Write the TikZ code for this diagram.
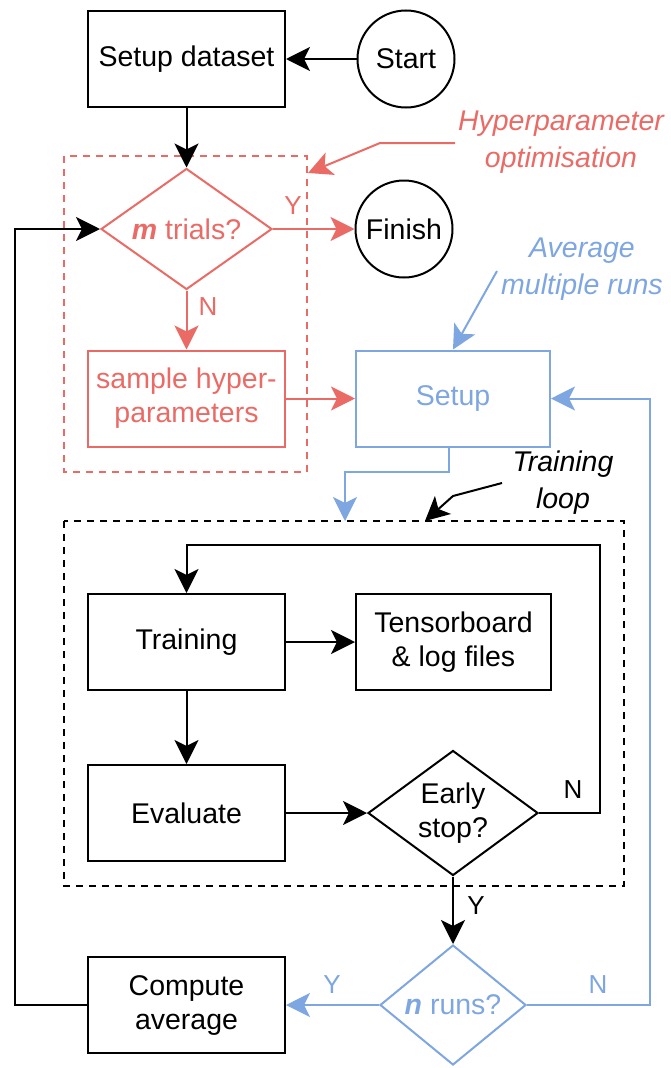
\documentclass[tikz,border=0pt]{standalone}
\usepackage{fontspec}
\setmainfont{Liberation Sans}
\usetikzlibrary{arrows.meta,shapes.geometric,calc}
\definecolor{hred}{HTML}{EA6B66}
\definecolor{hblue}{HTML}{7EA6E0}

\begin{document}
\begin{tikzpicture}[x=1pt,y=-1pt,line width=2pt,
  every node/.style={font=\fontsize{28.5}{34}\selectfont},
  arr/.style={-{Stealth[length=24pt,width=24pt,inset=6pt]}},
  box/.style={draw,rectangle,minimum width=197pt,minimum height=96pt,inner sep=0pt,align=center},
  term/.style={draw,circle,minimum size=97pt,inner sep=0pt},
  decision/.style={draw,diamond,inner sep=0pt},
  frame/.style={dashed,dash pattern=on 7pt off 6pt},
  note/.style={font=\fontsize{28.5}{37}\selectfont\itshape,align=center},
  tag/.style={font=\fontsize{26}{30}\selectfont}]
\useasboundingbox (0,0) rectangle (670,1068);

% dashed frames: hyperparameter search and training loop
\draw[frame,hred] (64,156) rectangle (307,472);
\draw[frame] (64,521) rectangle (624,886);

% nodes
\node[box] (ds) at (186.5,59) {Setup dataset};
\node[term] (start) at (406,59) {Start};
\node[decision,hred,minimum width=171pt,minimum height=121pt] (mt) at (186.5,229) {};
\node[text=hred] (mtT) at (mt) {\textbf{\textit{m}} trials?};
\node[term] (fin) at (404,229) {Finish};
\node[box,hred,text=hred] (shp) at (186.5,398.5) {sample hyper-\\parameters};
\node[box,hblue,text=hblue,minimum width=194pt] (setup) at (453,398.5) {Setup};

\node[box] (tr) at (186.5,642) {Training};
\node[box,minimum width=195pt] (tb) at (453.5,642) {Tensorboard\\\& log files};
\node[box] (ev) at (186.5,813) {Evaluate};
\node[decision,minimum width=170pt,minimum height=125pt] (es) at (453,813) {};
\node[align=center] (esT) at (es) {Early\\stop?};

\node[decision,hblue,minimum width=146pt,minimum height=120pt] (nr) at (453,1005) {};
\node[text=hblue] (nrT) at (nr) {\textbf{\textit{n}} runs?};
\node[box] (ca) at (186.5,1005) {Compute\\average};

% annotations
\node[note,text=hred] (hpo) at (561,142) {Hyperparameter\\optimisation};
\node[note,text=hblue] (amr) at (582,269) {Average\\multiple runs};
\node[note] (tloop) at (563,483) {Training\\loop};

% branch labels
\node[tag,text=hred] (mtY) at (293,206) {Y};
\node[tag,text=hred] (mtN) at (208,307) {N};
\node[tag] (esN) at (573,790) {N};
\node[tag] (esY) at (476,906) {Y};
\node[tag,text=hblue] (nrY) at (332,985) {Y};
\node[tag,text=hblue] (nrN) at (598,985) {N};

% helper points for the annotation arrows and loops
\coordinate (hpA) at (455,143);
\coordinate (hpB) at (380,143);
\coordinate (hpC) at (308,173);
\coordinate (amA) at (497,271);
\coordinate (tlA) at (502,483);
\coordinate (tlB) at (453,496);
\coordinate (tlC) at (425,521);
\coordinate (loopTop) at (600,545);
\coordinate (runBack) at (650,1005);
\coordinate (trialBack) at (15,1005);
\coordinate (spA) at (449,472);
\coordinate (spB) at (345,472);
\coordinate (spC) at (345,521);

% black connectors
\draw[arr] (start) -- (ds);
\draw[arr] (ds) -- (mt.north);
\draw[arr] (tr) -- (tb);
\draw[arr] (tr) -- (ev);
\draw[arr] (ev) -- (es.west);
\draw[arr] (es.east) -| (loopTop) -| (tr.north);
\draw[arr] (es.south) -- (nr.north);
\draw[arr] (ca.west) -- (trialBack) |- (mt.west);
\draw[arr] (tlA) -- (tlB) -- (tlC);

% red connectors
\draw[arr,hred] (mt.east) -- (fin.west);
\draw[arr,hred] (mt.south) -- (shp.north);
\draw[arr,hred] (shp.east) -- (setup.west);
\draw[arr,hred] (hpA) -- (hpB) -- (hpC);

% blue connectors
\draw[arr,hblue] (amA) -- (setup.north);
\draw[arr,hblue] (setup.south -| spA) -- (spA) -- (spB) -- (spC);
\draw[arr,hblue] (nr.west) -- (ca.east);
\draw[arr,hblue] (nr.east) -- (runBack) |- (setup.east);
\end{tikzpicture}
\end{document}
